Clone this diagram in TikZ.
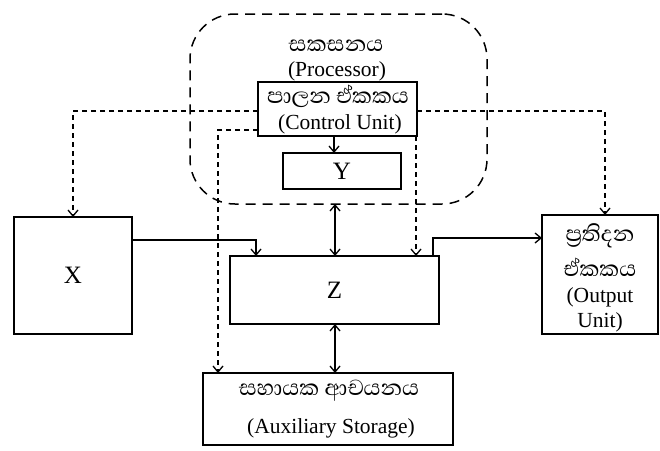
\documentclass[tikz,border=0pt]{standalone}
\usepackage{fontspec}
\setmainfont{Liberation Serif}
\newfontfamily\sinhfont[Script=Sinhala]{Abhaya Libre}
\usetikzlibrary{arrows.meta,calc}
\begin{document}
\begin{tikzpicture}[x=1pt,y=-1pt,
  box/.style={draw,line width=1.5pt,inner sep=0pt,outer sep=0pt,align=center},
  lat/.style={font=\fontsize{21.5}{22}\selectfont},
  sin/.style={font=\sinhfont\fontsize{28}{28}\selectfont},
  arr/.style={line width=1.5pt,-{Straight Barb[length=6pt,width=10pt,line width=1.3pt]}},
  darr/.style={line width=1.5pt,{Straight Barb[length=6pt,width=10pt,line width=1.3pt]}-{Straight Barb[length=6pt,width=10pt,line width=1.3pt]}},
  ctl/.style={dash pattern=on 5pt off 4pt},
  txt/.style={inner sep=0pt,align=center}]
\useasboundingbox (0,0) rectangle (660,450);
\fill[white] (0,0) rectangle (660,450);
% processor
\node[draw,line width=1.5pt,dash pattern=on 10pt off 7pt,rounded corners=45pt,
  minimum width=297pt,minimum height=190pt,inner sep=0pt,outer sep=0pt] (proc) at (338.5,109) {};
\node[txt,sin] (ptxt1) at (336,46) {සකසනය};
\node[txt,lat] (ptxt2) at (337,71) {(Processor)};
\node[box,minimum width=159pt,minimum height=54pt] (cu) at (337.5,109) {};
\node[txt,sin] (cutxt1) at (338,96) {පාලන ඒකකය};
\node[txt,lat] (cutxt2) at (340,124) {(Control Unit)};
\node[box,minimum width=118pt,minimum height=36pt,font=\fontsize{25}{25}\selectfont] (y) at (342,171) {Y};
\node[box,minimum width=118pt,minimum height=117pt,font=\fontsize{25}{25}\selectfont] (x) at (73,275.5) {X};
\node[box,minimum width=209pt,minimum height=68pt,font=\fontsize{25}{25}\selectfont] (z) at (334.5,290) {Z};
\node[box,minimum width=116pt,minimum height=119pt] (out) at (600,274.5) {};
\node[txt,sin] (otxt1) at (600,236) {ප්‍රතිදන};
\node[txt,sin] (otxt2) at (600,267) {ඒකකය};
\node[txt,lat] (otxt3) at (600,297) {(Output};
\node[txt,lat] (otxt4) at (600,322) {Unit)};
\node[box,minimum width=250pt,minimum height=72pt] (aux) at (328,409) {};
\node[txt,sin] (atxt1) at (329,391) {සහායක ආචයනය};
\node[txt,lat] (atxt2) at (331,428) {(Auxiliary Storage)};
% connectors
\draw[arr] (cu.south -| 334,0) -- (334,0 |- y.north);
\draw[arr,ctl] ([yshift=-2pt]cu.west) -| (x.north);
\draw[arr,ctl] ([yshift=-2pt]cu.east) -| ([xshift=5pt]out.north);
\draw[arr,ctl] ([yshift=6pt]cu.south west) -| ($(aux.north west)+(15,0)$);
\draw[arr,ctl] ([xshift=-1pt]cu.south east) -- ([xshift=-1pt]cu.south east |- z.north);
\draw[darr] ([xshift=0.5pt]z.north |- proc.south) -- ([xshift=0.5pt]z.north);
\draw[darr] ([xshift=0.5pt]z.south) -- ([xshift=0.5pt]z.south |- aux.north);
\draw[arr] ($(x.north east)+(0,23)$) -| ($(z.north west)+(26,0)$);
\draw[arr] ($(z.north east)+(-6,0)$) |- ($(out.north west)+(0,23)$);
\end{tikzpicture}
\end{document}
